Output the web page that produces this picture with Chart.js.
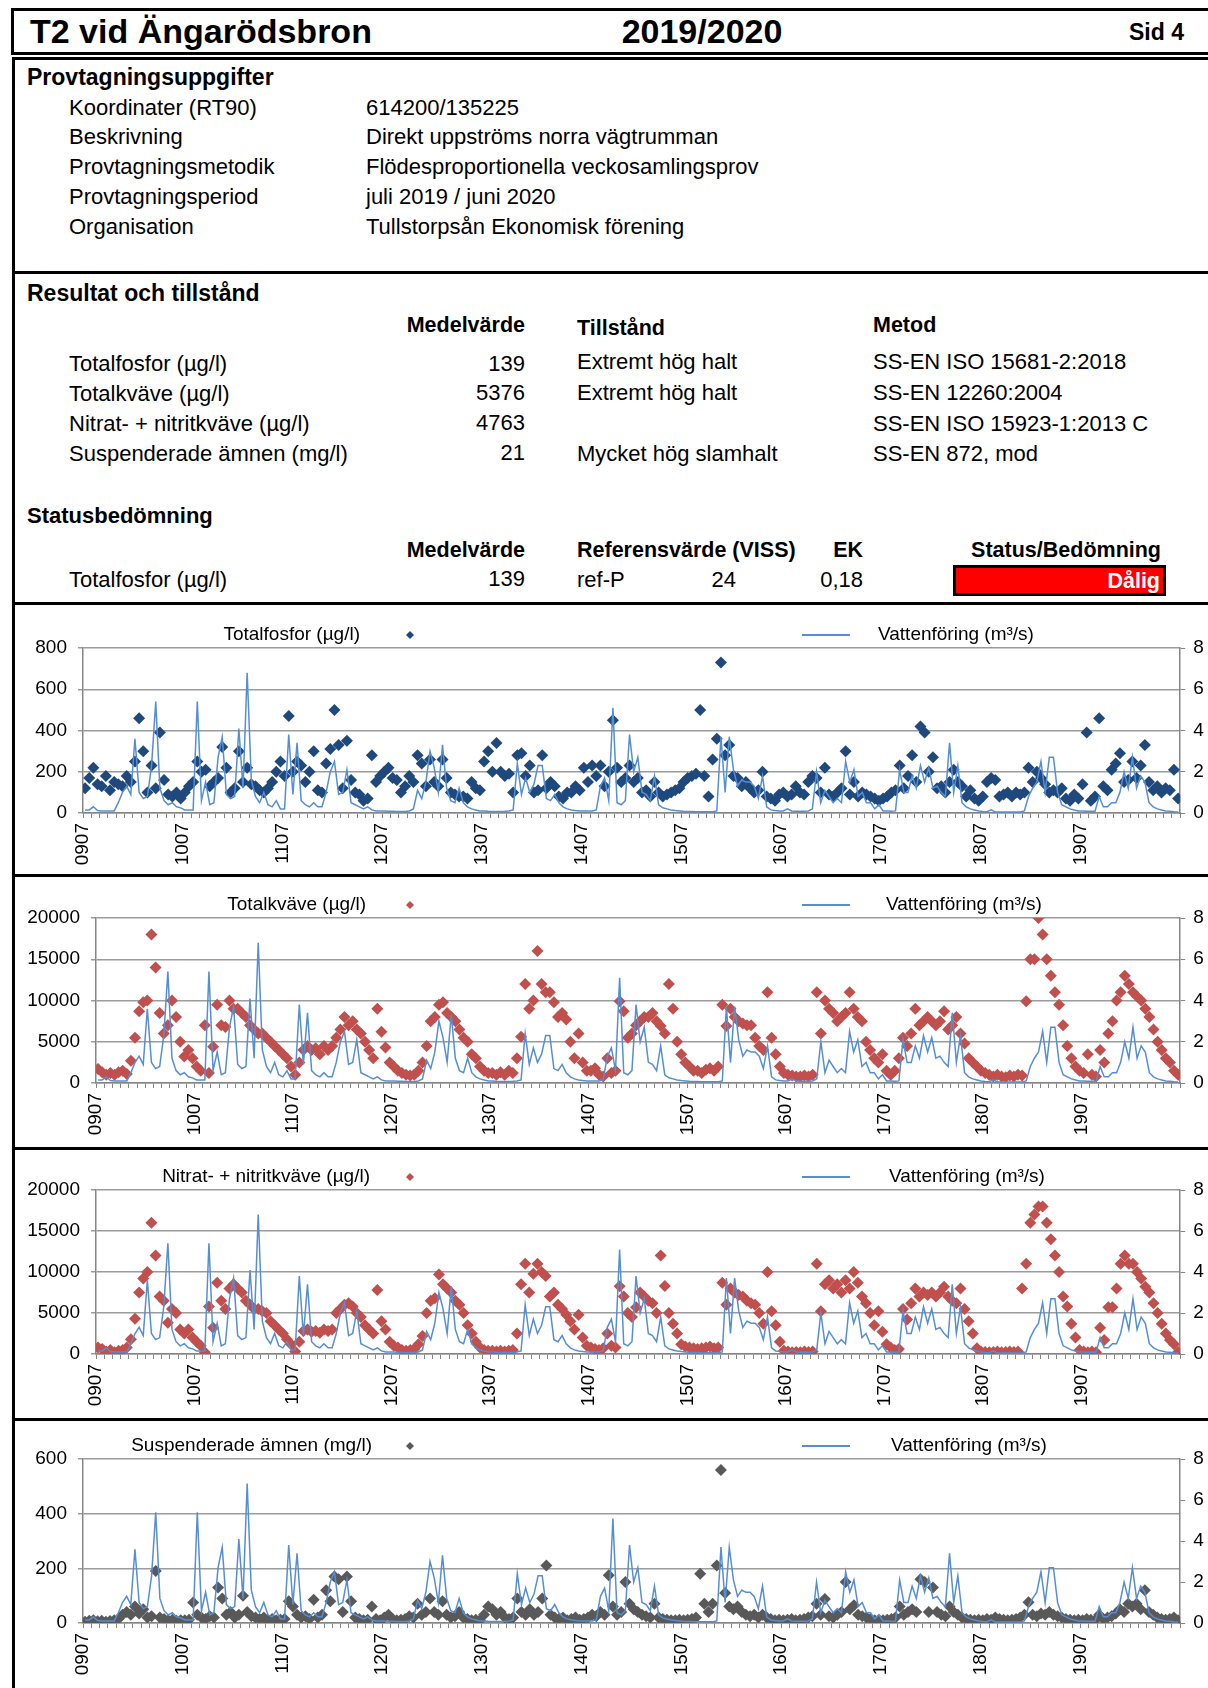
<!DOCTYPE html>
<html>
<head>
<meta charset="utf-8">
<script src="https://cdn.jsdelivr.net/npm/chart.js@4.4.0/dist/chart.umd.min.js"></script>
<style>
body{margin:0;background:#fff;width:1208px;height:1688px;position:relative;overflow:hidden;font-family:"Liberation Sans",Arial,sans-serif;color:#000}
.t{position:absolute;white-space:nowrap;transform:translateY(-50%);line-height:1.15}
.r{transform:translate(-100%,-50%)}
.c{transform:translate(-50%,-50%)}
.b{font-weight:bold}
.h{font-size:23px;font-weight:bold}
.n{font-size:22px}
.hb{font-size:21.5px;font-weight:bold}
.hl{position:absolute;left:12px;width:1200px;height:3px;background:#000}
canvas{position:absolute;left:15px}
</style>
</head>
<body>
<div style="position:absolute;left:11px;top:8px;width:1210px;height:41px;border:3px solid #000"></div>
<div class="t b" style="left:30px;top:32px;font-size:34px">T2 vid Ängarödsbron</div>
<div class="t b c" style="left:702px;top:32px;font-size:34px">2019/2020</div>
<div class="t b r" style="left:1184px;top:32px;font-size:23px">Sid 4</div>

<div style="position:absolute;left:12px;top:57px;width:3px;height:1640px;background:#000"></div>
<div class="hl" style="top:57px"></div>

<div class="t h" style="left:27px;top:77px">Provtagningsuppgifter</div>
<div class="t n" style="left:69px;top:108px">Koordinater (RT90)</div>
<div class="t n" style="left:366px;top:108px">614200/135225</div>
<div class="t n" style="left:69px;top:137px">Beskrivning</div>
<div class="t n" style="left:366px;top:137px">Direkt uppströms norra vägtrumman</div>
<div class="t n" style="left:69px;top:167px">Provtagningsmetodik</div>
<div class="t n" style="left:366px;top:167px">Flödesproportionella veckosamlingsprov</div>
<div class="t n" style="left:69px;top:197px">Provtagningsperiod</div>
<div class="t n" style="left:366px;top:197px">juli 2019 / juni 2020</div>
<div class="t n" style="left:69px;top:227px">Organisation</div>
<div class="t n" style="left:366px;top:227px">Tullstorpsån Ekonomisk förening</div>

<div class="hl" style="top:271px"></div>
<div class="t h" style="left:27px;top:293px">Resultat och tillstånd</div>
<div class="t hb r" style="left:525px;top:325px">Medelvärde</div>
<div class="t hb" style="left:577px;top:328px">Tillstånd</div>
<div class="t hb" style="left:873px;top:325px">Metod</div>

<div class="t n" style="left:69px;top:364px">Totalfosfor (µg/l)</div>
<div class="t n r" style="left:525px;top:364px">139</div>
<div class="t n" style="left:577px;top:362px">Extremt hög halt</div>
<div class="t n" style="left:873px;top:362px">SS-EN ISO 15681-2:2018</div>
<div class="t n" style="left:69px;top:394px">Totalkväve (µg/l)</div>
<div class="t n r" style="left:525px;top:393px">5376</div>
<div class="t n" style="left:577px;top:393px">Extremt hög halt</div>
<div class="t n" style="left:873px;top:393px">SS-EN 12260:2004</div>
<div class="t n" style="left:69px;top:424px">Nitrat- + nitritkväve (µg/l)</div>
<div class="t n r" style="left:525px;top:423px">4763</div>
<div class="t n" style="left:873px;top:424px">SS-EN ISO 15923-1:2013 C</div>
<div class="t n" style="left:69px;top:454px">Suspenderade ämnen (mg/l)</div>
<div class="t n r" style="left:525px;top:453px">21</div>
<div class="t n" style="left:577px;top:454px">Mycket hög slamhalt</div>
<div class="t n" style="left:873px;top:454px">SS-EN 872, mod</div>

<div class="t h" style="left:27px;top:516px;font-size:22px">Statusbedömning</div>
<div class="t hb r" style="left:525px;top:550px">Medelvärde</div>
<div class="t hb" style="left:577px;top:550px">Referensvärde (VISS)</div>
<div class="t hb r" style="left:863px;top:550px">EK</div>
<div class="t hb r" style="left:1161px;top:550px">Status/Bedömning</div>
<div class="t n" style="left:69px;top:580px">Totalfosfor (µg/l)</div>
<div class="t n r" style="left:525px;top:579px">139</div>
<div class="t n" style="left:577px;top:580px">ref-P</div>
<div class="t n r" style="left:736px;top:580px">24</div>
<div class="t n r" style="left:863px;top:580px">0,18</div>
<div style="position:absolute;left:953px;top:565px;width:213px;height:31px;box-sizing:border-box;border:3px solid #000;background:#ff0000"></div>
<div class="t hb r" style="left:1160px;top:581px;color:#fff">Dålig</div>

<div class="hl" style="top:602px"></div>
<div class="hl" style="top:874px"></div>
<div class="hl" style="top:1147px"></div>
<div class="hl" style="top:1418px"></div>

<canvas id="c1" width="1193" height="266"></canvas>
<canvas id="c2" width="1193" height="266"></canvas>
<canvas id="c3" width="1193" height="266"></canvas>
<canvas id="c4" width="1193" height="266"></canvas>

<script>
// half-month values, July 2009 - June 2020, one row per hydrological year
var flow = [
  0.15,0.15,0.3,0.12,0.1,0.1,0.1,0.1,0.5,1.0,1.3,0.9,3.6,1.0,0.7,0.8,2.3,5.4,1.2,0.6,0.4,0.5,0.3,0.25,
  0.15,0.15,0.15,5.4,0.6,1.5,0.4,0.5,2.7,3.7,0.9,0.7,0.8,4.1,1.2,6.8,1.6,0.8,0.5,1.0,0.4,0.3,0.6,0.2,
  0.2,3.8,0.9,3.4,0.6,0.4,0.3,0.5,0.3,0.3,1.0,2.0,2.5,0.9,1.0,2.1,0.5,0.4,0.3,0.2,0.3,0.15,0.1,0.1,
  0.1,0.08,0.08,0.07,0.07,0.07,0.1,0.2,1.1,0.7,1.5,3.0,2.2,1.0,3.3,1.2,0.6,0.5,1.2,0.5,0.3,0.2,0.15,0.1,
  0.1,0.08,0.07,0.07,0.07,0.08,0.1,0.15,2.4,0.9,1.7,1.0,1.4,2.3,2.3,0.7,0.6,0.9,0.5,0.3,0.2,0.15,0.12,0.1,
  0.1,0.1,0.1,0.15,1.3,1.7,0.6,5.1,0.5,0.4,0.6,3.8,2.0,2.7,1.0,0.9,0.6,1.8,0.4,0.25,0.2,0.15,0.12,0.1,
  0.08,0.07,0.07,0.06,0.06,0.06,0.06,0.06,0.1,3.7,1.0,3.7,2.1,1.3,1.6,1.5,1.5,1.3,0.7,1.8,0.3,0.15,0.12,0.1,
  0.1,0.2,0.1,0.08,0.08,0.08,0.1,0.2,2.0,0.5,1.1,0.8,0.5,0.7,0.5,2.5,1.5,2.1,0.8,1.0,0.5,0.5,0.2,0.4,
  0.1,0.1,0.08,0.1,2.1,1.0,1.0,1.8,1.2,2.3,1.5,2.2,1.2,1.3,1.0,0.8,3.4,1.0,2.3,0.5,0.3,0.2,0.15,0.1,
  0.07,0.06,0.15,0.05,0.05,0.05,0.05,0.05,0.05,0.05,0.1,0.8,1.2,1.5,2.5,1.0,2.7,2.7,1.0,0.4,0.3,0.2,0.15,0.1,
  0.1,0.08,0.08,0.08,0.8,0.3,0.3,0.5,0.5,1.0,2.0,1.2,2.7,1.2,1.8,1.5,0.5,0.3,0.2,0.15,0.1,0.08,0.06,0.05
];

var totP = [
  120,170,220,140,130,180,110,150,140,130,180,150,250,460,300,100,230,120,390,160,90,80,100,70,
  100,130,150,250,200,210,130,150,170,320,220,100,120,300,150,220,140,130,110,100,120,150,200,250,
  180,470,200,250,230,150,200,300,110,100,240,310,500,330,120,350,160,100,90,60,70,280,150,180,
  200,220,170,160,100,130,180,150,280,240,130,260,150,130,260,170,100,90,80,80,70,150,120,110,
  250,300,200,340,200,180,190,100,280,290,180,230,100,110,280,120,150,130,80,70,100,100,130,110,
  220,150,230,180,230,130,200,450,220,150,170,230,150,170,100,110,80,150,100,80,90,100,110,120,
  150,170,180,190,500,180,80,260,360,730,280,330,180,170,130,150,120,100,110,200,80,70,60,90,
  100,80,90,130,100,90,150,180,170,100,220,90,80,100,120,300,90,150,80,100,90,80,70,60,
  70,80,100,110,230,120,180,280,150,420,390,200,270,120,130,100,150,210,150,130,80,110,70,60,
  80,150,170,160,80,90,100,80,100,90,100,220,150,200,170,140,100,110,100,120,70,60,90,70,
  140,390,60,80,460,130,110,210,240,290,150,160,250,170,230,330,150,110,130,100,120,110,210,70
];

var totN = [
  1700,1300,1000,1200,1000,1300,1500,1100,2700,5500,8700,9800,10000,18000,14000,8500,6000,7000,10000,8000,5000,3200,4000,3000,
  2000,1500,7000,1200,4400,9500,7000,6800,10000,9000,9000,8500,8000,7000,6500,6000,6000,5500,5000,4500,4000,3500,3000,2000,
  1000,2500,4000,4500,4000,4200,3500,4500,4000,4500,5500,6500,8000,7000,7500,6500,6000,5000,4000,3000,9000,6200,4300,2500,
  2000,1500,1200,1000,900,1000,1500,2500,4500,7500,8000,9500,9800,8500,8000,7500,6500,5500,5000,3500,3000,2000,1500,1200,
  1200,1000,1300,1000,1500,1200,3000,5600,12000,9000,10000,16000,12000,11000,11000,9800,8000,8500,7700,5000,3000,6000,2500,1500,
  1500,1800,1000,800,3000,1200,1500,9900,8700,5500,6000,7000,7500,8000,8000,8500,7500,6900,6000,12000,9000,5000,3500,2500,
  2000,1500,1500,1200,1600,1800,1500,2000,9500,6900,9000,8000,7500,7200,7000,7000,5500,4500,4000,11000,5500,3500,2000,1200,
  1000,900,800,800,900,800,1000,11000,6000,10000,9000,8500,7500,8000,8500,11000,9000,8000,7500,5000,4000,3000,2500,3500,
  1500,1000,1500,3000,5500,4500,6000,9000,7000,7500,8000,7500,7000,7500,8700,6500,7000,8000,6000,4800,3000,2500,2000,1500,
  1200,1000,800,1000,800,700,900,800,1000,900,9900,15000,15000,20000,18000,15000,13000,11000,9500,7000,4500,3000,2000,1500,
  1200,3500,1000,800,4000,2500,6000,7500,10000,11000,13000,12000,11000,10500,10000,9000,8000,6500,5000,4000,3000,2500,1500,1000
];

var no3N = [
  800,600,300,500,200,400,500,800,1800,4300,7500,9200,10000,16000,12000,7000,6500,3800,5500,5000,3000,2500,3000,2000,
  1500,1000,200,5800,3200,8700,6500,5500,8000,8500,8000,7500,6500,6000,5500,5500,5200,5000,4000,3500,3000,2500,1800,1200,
  300,1500,2800,3000,2700,2800,2600,3000,2800,3000,5000,5500,6000,6200,5800,5000,4500,3500,3000,2500,7800,4000,3000,1500,
  1000,800,500,400,500,600,1200,2200,5000,6500,6800,9700,8500,8000,7500,6500,6000,5000,3500,2500,1500,800,500,400,
  400,300,400,300,400,500,2500,8500,11000,7500,9800,11000,10000,9500,7000,7500,6000,5500,4800,4000,3000,4800,2000,1000,
  800,600,500,700,2500,1000,800,8250,7000,5000,4500,5700,7500,7000,6500,6200,5000,12000,8300,5000,3700,2500,1200,900,
  800,700,600,700,800,900,700,800,8700,6000,8000,7500,7200,7000,6500,6200,6000,5000,3700,10000,5200,3500,1500,400,
  300,200,250,200,300,250,300,11000,5200,8500,9000,8000,8500,7500,9000,8000,10000,8700,7000,6200,5000,3500,5200,2700,
  1200,800,500,600,5500,4200,6200,8000,7000,7500,7200,7500,7000,7500,8200,7000,6500,6200,8000,5500,4000,2500,700,300,
  250,200,250,300,200,250,300,250,300,8000,11000,16000,17000,18000,18000,16000,14000,12000,10000,7000,5800,3700,2000,500,
  300,200,300,200,3200,1700,5700,5700,8000,11000,12000,11000,11000,10000,9200,8200,7500,6200,5000,3700,2500,1700,1200,250
];

var susp = [
  5,8,10,6,8,5,7,10,15,30,40,30,60,35,50,20,25,190,20,15,10,12,8,10,
  10,12,75,30,20,15,25,20,130,90,30,40,20,30,100,40,25,20,15,20,10,15,10,12,
  15,80,60,30,20,25,15,85,20,30,120,80,170,160,40,170,80,20,15,10,12,60,15,10,
  20,30,15,10,12,15,25,20,70,30,40,90,40,30,80,30,20,25,40,20,15,10,12,10,
  30,60,50,30,40,20,15,20,90,40,30,50,30,40,90,210,30,20,15,20,10,15,20,12,
  15,20,30,25,40,30,175,60,30,40,150,70,50,40,30,25,20,70,20,15,12,10,10,12,
  10,12,15,20,180,70,40,70,210,560,110,60,50,60,40,30,25,30,20,30,20,15,10,12,
  10,12,15,10,12,15,20,25,70,30,88,25,20,30,40,150,50,65,30,25,20,15,10,12,
  10,12,15,20,60,30,40,50,40,160,150,40,130,40,30,25,60,40,30,20,15,12,10,12,
  10,15,12,20,15,12,10,12,15,20,30,76,30,25,35,30,40,30,25,20,15,12,10,12,
  10,15,12,10,30,15,20,25,35,50,40,70,60,70,50,120,40,30,20,15,12,15,20,10
];

var yearLabels = ['0907','1007','1107','1207','1307','1407','1507','1607','1707','1807','1907'];

var flowColor = '#558ED5';
var axisGray = '#868686';
var FONT = '"Liberation Sans", Arial, sans-serif';

Chart.defaults.font.family = FONT;
Chart.defaults.font.size = 19;
Chart.defaults.color = '#000';

function toPoints(arr) {
  return arr.map(function (v, i) { return { x: i / 2 + 0.25, y: v }; });
}

// excel style legend: "name ◆ ........ —— Vattenföring"
var excelLegend = {
  id: 'excelLegend',
  afterDraw: function (chart, args, o) {
    var ctx = chart.ctx;
    ctx.save();
    ctx.font = '19px ' + FONT;
    ctx.textBaseline = 'middle';
    ctx.fillStyle = '#000';
    ctx.textAlign = 'right';
    ctx.fillText(o.label, o.textEnd, o.y);
    ctx.fillStyle = o.color;
    ctx.beginPath();
    ctx.moveTo(o.marker - 4, o.y);
    ctx.lineTo(o.marker, o.y - 4);
    ctx.lineTo(o.marker + 4, o.y);
    ctx.lineTo(o.marker, o.y + 4);
    ctx.closePath();
    ctx.fill();
    ctx.strokeStyle = flowColor;
    ctx.lineWidth = 2;
    ctx.beginPath();
    ctx.moveTo(787, o.y);
    ctx.lineTo(835, o.y);
    ctx.stroke();
    ctx.fillStyle = '#000';
    ctx.textAlign = 'left';
    ctx.fillText('Vattenföring (m³/s)', o.text2, o.y);
    ctx.restore();
  }
};

function makeChart(p) {
  var cv = document.getElementById(p.id);
  cv.style.top = p.top + 'px';
  var H = 266;
  new Chart(cv, {
    type: 'scatter',
    data: {
      datasets: [{
        type: 'line',
        label: 'Vattenföring (m³/s)',
        data: toPoints(flow),
        yAxisID: 'y1',
        borderColor: flowColor,
        borderWidth: 1.5,
        pointRadius: 0,
        tension: 0,
        order: 0
      }, {
        type: 'scatter',
        label: p.label,
        data: toPoints(p.values),
        yAxisID: 'y',
        pointStyle: 'rectRot',
        pointRadius: 6,
        backgroundColor: p.color,
        borderColor: p.color,
        borderWidth: 0,
        order: 1
      }]
    },
    options: {
      responsive: false,
      animation: false,
      events: [],
      layout: { padding: { top: p.plotTop - p.top, left: 0, right: 0, bottom: 0 } },
      plugins: {
        legend: { display: false },
        tooltip: { enabled: false },
        excelLegend: {
          label: p.label, color: p.color, y: p.plotTop - p.top - 13,
          textEnd: p.textEnd, marker: 395, text2: p.text2
        }
      },
      scales: {
        x: {
          type: 'linear', min: 0, max: 132,
          grid: { drawOnChartArea: false, drawTicks: true, tickLength: 5, color: axisGray, lineWidth: 1 },
          border: { display: true, color: axisGray, width: 1.5 },
          ticks: {
            stepSize: 1, autoSkip: false, minRotation: 90, maxRotation: 90, padding: 5,
            callback: function (v) {
              return (v % 12 === 0 && v / 12 < yearLabels.length) ? yearLabels[v / 12] : '';
            }
          },
          afterFit: function (s) { s.height = H - (p.plotBottom - p.top); }
        },
        y: {
          position: 'left', min: 0, max: p.max,
          grid: { color: '#9c9c9c', lineWidth: 1.5, drawTicks: true, tickLength: 5 },
          border: { display: true, color: axisGray, width: 1.5 },
          ticks: { stepSize: p.step, padding: 11, callback: function (v) { return String(v); } },
          afterFit: function (s) { s.width = p.plotLeft - 15; }
        },
        y1: {
          position: 'right', min: 0, max: 8,
          grid: { drawOnChartArea: false, drawTicks: true, tickLength: 5, color: axisGray },
          border: { display: true, color: axisGray, width: 1.5 },
          ticks: { stepSize: 2, padding: 8, callback: function (v) { return String(v); } },
          afterFit: function (s) { s.width = 26; }
        }
      }
    },
    plugins: [excelLegend]
  });
}

makeChart({ id: 'c1', top: 606, plotTop: 648, plotBottom: 813, plotLeft: 83,
  label: 'Totalfosfor (µg/l)', values: totP, color: '#1F497D', max: 800, step: 200, textEnd: 345, text2: 863 });
makeChart({ id: 'c2', top: 879, plotTop: 918, plotBottom: 1083, plotLeft: 96,
  label: 'Totalkväve (µg/l)', values: totN, color: '#C0504D', max: 20000, step: 5000, textEnd: 351, text2: 871 });
makeChart({ id: 'c3', top: 1151, plotTop: 1190, plotBottom: 1354, plotLeft: 96,
  label: 'Nitrat- + nitritkväve (µg/l)', values: no3N, color: '#C0504D', max: 20000, step: 5000, textEnd: 355, text2: 874 });
makeChart({ id: 'c4', top: 1422, plotTop: 1459, plotBottom: 1623, plotLeft: 83,
  label: 'Suspenderade ämnen (mg/l)', values: susp, color: '#595959', max: 600, step: 200, textEnd: 357, text2: 876 });
</script>
</body>
</html>
